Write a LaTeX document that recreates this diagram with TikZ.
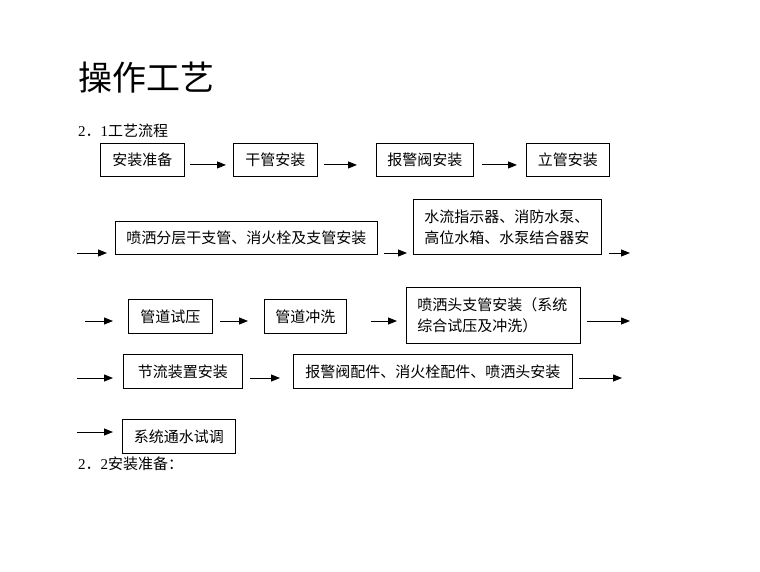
\documentclass[tikz,border=0pt]{standalone}
\usepackage{fontspec}
\setmainfont{Liberation Serif}
\newfontfamily\cjk{Noto Sans CJK SC}
\usetikzlibrary{arrows.meta}

\begin{document}
\begin{tikzpicture}[
    x=1pt, y=-1pt,
    box/.style={draw, line width=0.9pt, inner sep=0pt, anchor=north west,
      font=\fontsize{15}{21}\selectfont\cjk},
    twoline/.style={box, align=left, inner xsep=11pt},
    label/.style={anchor=west, inner sep=0pt, font=\fontsize{15}{18}\selectfont},
    flow/.style={line width=0.9pt, -{Triangle[length=9pt,width=7pt]}}
  ]
  \useasboundingbox (0,0) rectangle (760,572);

  \node[anchor=west, inner sep=0pt, font=\fontsize{34}{34}\selectfont\cjk] (title) at (78,78) {操作工艺};
  \node[label] (sec1) at (78,131) {2{\cjk ．}1{\cjk 工艺流程}};

  % row 1
  \node[box, minimum width=84pt, minimum height=33pt] (prep) at (100,143) {安装准备};
  \node[box, minimum width=84pt, minimum height=33pt] (mainpipe) at (233,143) {干管安装};
  \node[box, minimum width=97pt, minimum height=33pt] (alarmvalve) at (376,143) {报警阀安装};
  \node[box, minimum width=83pt, minimum height=33pt] (riser) at (526,143) {立管安装};
  \draw[flow, shorten <=5pt, shorten >=7pt] ([yshift=-5pt]prep.east) -- ([yshift=-5pt]mainpipe.west);
  \draw[flow, shorten <=6pt, shorten >=19pt] ([yshift=-5pt]mainpipe.east) -- ([yshift=-5pt]alarmvalve.west);
  \draw[flow, shorten <=8pt, shorten >=9pt] ([yshift=-5pt]alarmvalve.east) -- ([yshift=-5pt]riser.west);

  % row 2
  \coordinate (in2) at (77,253);
  \coordinate (out2) at (630,253);
  \node[box, minimum width=262pt, minimum height=33pt] (branch) at (115,221) {喷洒分层干支管、消火栓及支管安装};
  \node[twoline, minimum width=188pt, minimum height=55pt, text width=166pt] (pumps) at (413,199)
    {水流指示器、消防水泵、\\高位水箱、水泵结合器安};
  \draw[flow, shorten >=8pt] (in2) -- (in2 -| branch.west);
  \draw[flow, shorten <=6pt, shorten >=6pt] (branch.east |- in2) -- (pumps.west |- in2);
  \draw[flow, shorten <=7pt] (pumps.east |- out2) -- (out2);

  % row 3
  \coordinate (in3) at (85,321);
  \coordinate (out3) at (630,321);
  \node[box, minimum width=84pt, minimum height=34pt] (ptest) at (128,299) {管道试压};
  \node[box, minimum width=82pt, minimum height=34pt] (pflush) at (264,299) {管道冲洗};
  \node[twoline, minimum width=174pt, minimum height=56pt, text width=152pt] (sprinkler) at (406,287)
    {喷洒头支管安装（系统\\综合试压及冲洗）};
  \draw[flow, shorten >=15pt] (in3) -- (in3 -| ptest.west);
  \draw[flow, shorten <=7pt, shorten >=16pt] (ptest.east |- in3) -- (pflush.west |- in3);
  \draw[flow, shorten <=24pt, shorten >=9pt] (pflush.east |- in3) -- (sprinkler.west |- in3);
  \draw[flow, shorten <=6pt] (sprinkler.east |- out3) -- (out3);

  % row 4
  \coordinate (in4) at (77,378);
  \coordinate (out4) at (622,378);
  \node[box, minimum width=119pt, minimum height=34pt] (throttle) at (123,354) {节流装置安装};
  \node[box, minimum width=279pt, minimum height=34pt] (fittings) at (293,354) {报警阀配件、消火栓配件、喷洒头安装};
  \draw[flow, shorten >=10pt] (in4) -- (in4 -| throttle.west);
  \draw[flow, shorten <=7pt, shorten >=13pt] (throttle.east |- in4) -- (fittings.west |- in4);
  \draw[flow, shorten <=6pt] (fittings.east |- out4) -- (out4);

  % row 5
  \coordinate (in5) at (77,432);
  \node[box, minimum width=113pt, minimum height=34pt] (commission) at (122,419) {系统通水试调};
  \draw[flow, shorten >=9pt] (in5) -- (in5 -| commission.west);

  \node[label] (sec2) at (78,464) {2{\cjk ．}2{\cjk 安装准备：}};
\end{tikzpicture}
\end{document}
